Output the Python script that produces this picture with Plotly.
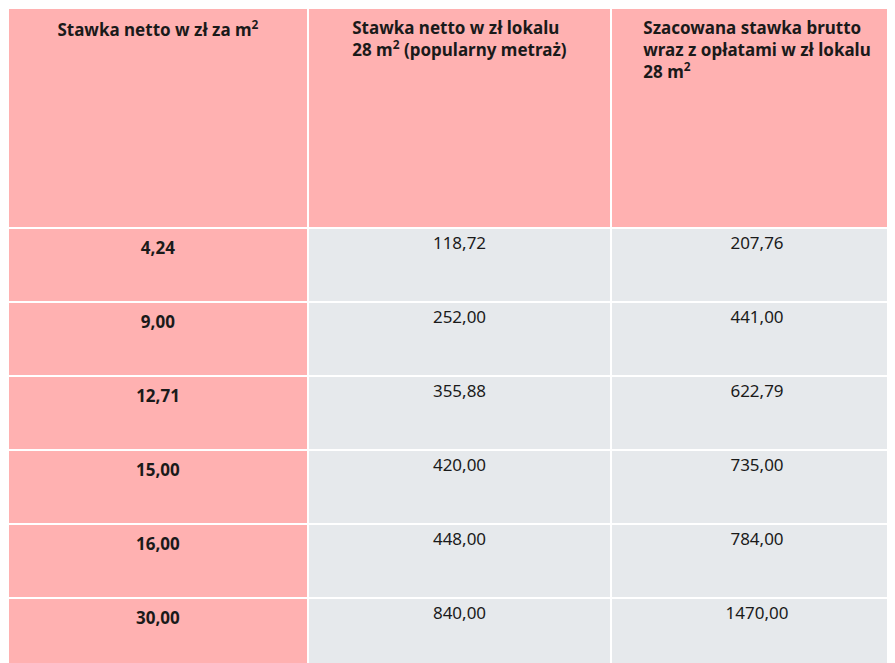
import plotly.graph_objects as go

headers = [
    "<b>Stawka netto w zł za m<sup>2</sup></b>",
    "<b>Stawka netto w zł lokalu<br>28 m<sup>2</sup> (popularny metraż)</b>",
    "<b>Szacowana stawka brutto<br>wraz z opłatami w zł lokalu<br>28 m<sup>2</sup></b>",
]
netto_m2 = ["4,24", "9,00", "12,71", "15,00", "16,00", "30,00"]
netto_lokal = ["118,72", "252,00", "355,88", "420,00", "448,00", "840,00"]
brutto_lokal = ["207,76", "441,00", "622,79", "735,00", "784,00", "1470,00"]

pink = "#ffb1b1"
grey = "#e6e9ec"
n = len(netto_m2)

fig = go.Figure(go.Table(
    columnwidth=[300, 303, 292],
    header=dict(
        values=headers,
        fill_color=pink,
        line=dict(color="white", width=2),
        align="center",
        height=220,
        font=dict(family="Noto Sans", size=17, color="#1a1a1a", weight="bold"),
    ),
    cells=dict(
        values=[["<b>%s</b>" % v for v in netto_m2], netto_lokal, brutto_lokal],
        fill_color=[[pink] * n, [grey] * n, [grey] * n],
        line=dict(color="white", width=2),
        align="center",
        height=74,
        font=dict(family="Noto Sans", size=17, color="#1a1a1a"),
    ),
))
fig.update_layout(width=895, height=663, margin=dict(l=0, r=0, t=0, b=0),
                  paper_bgcolor="white")
fig.write_html("out.html")
